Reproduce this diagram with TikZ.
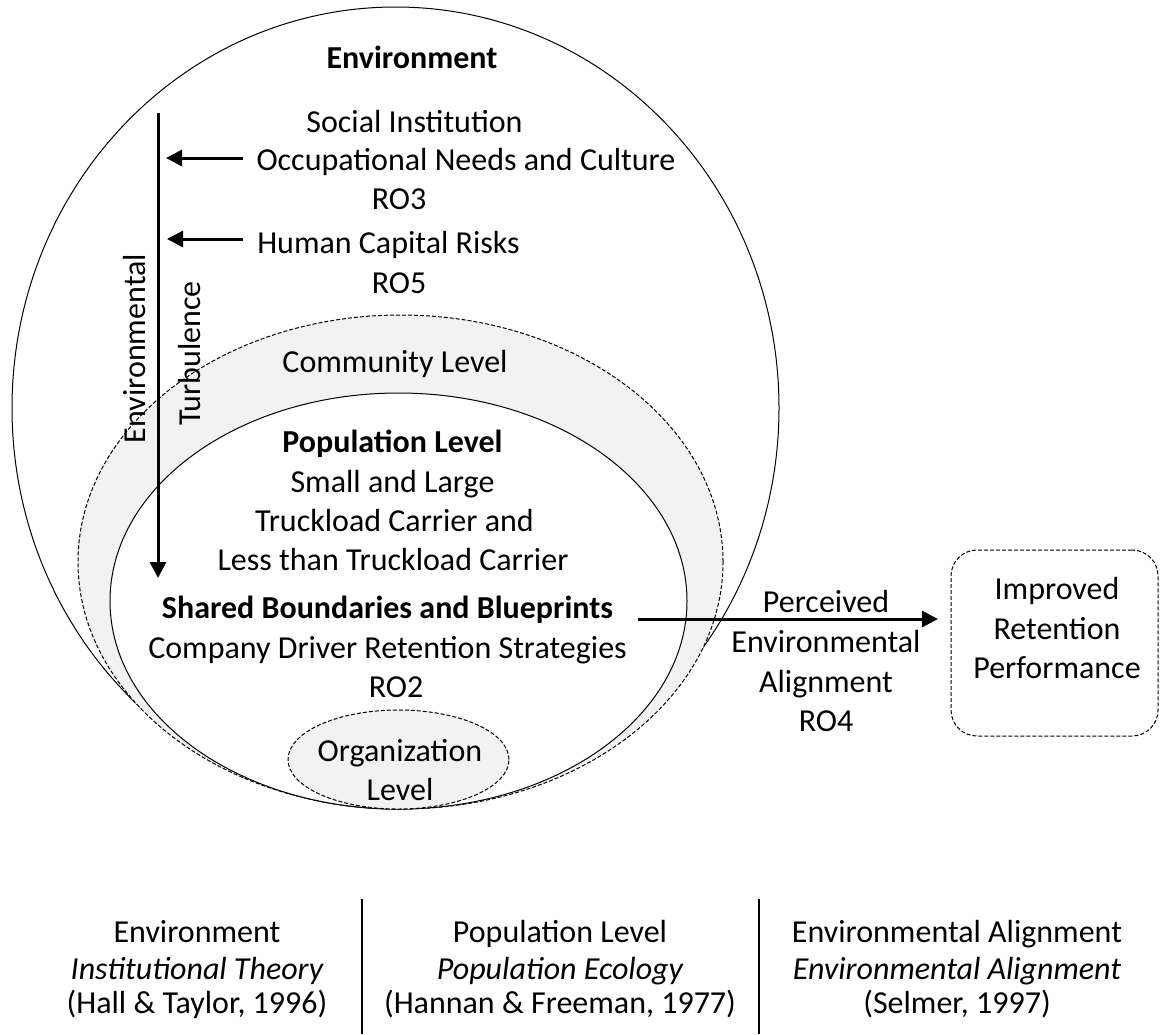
\documentclass[tikz,border=0pt]{standalone}
\usepackage{fontspec}
\setmainfont{Carlito}
\usetikzlibrary{arrows.meta,shapes.geometric}
\definecolor{lightfill}{HTML}{F2F2F2}
\begin{document}
\begin{tikzpicture}[x=0.5pt,y=-0.5pt,
  font=\fontsize{16pt}{20pt}\selectfont,
  lbl/.style={anchor=base,inner sep=0pt,outer sep=0pt},
  thinline/.style={line width=0.5pt},
  dashline/.style={line width=0.5pt,dash pattern=on 2pt off 1pt},
  ell/.style={ellipse,inner sep=0pt,outer sep=0pt},
  bigarrow/.style={line width=1.5pt,-{Triangle[length=8pt,width=8pt]}},
  sepline/.style={line width=0.8pt},
]
\useasboundingbox (0,0) rectangle (1160,1034);
% ellipses
\node[ell,draw,thinline,minimum width=383.5pt,minimum height=401pt] (env) at (395.5,408) {};
\node[ell,draw,dashline,fill=lightfill,minimum width=322.5pt,minimum height=247pt] (comm) at (400.5,562) {};
\node[ell,draw,thinline,fill=white,minimum width=288.5pt,minimum height=208pt] (pop) at (398.5,601) {};
\node[ell,draw,dashline,fill=lightfill,minimum width=110.5pt,minimum height=49.5pt] (org) at (398.5,759.5) {};
% top texts
\node[lbl,font=\fontsize{16pt}{20pt}\selectfont\bfseries] (tenv) at (412,68) {Environment};
\node[lbl] (tsoc) at (414.5,132) {Social Institution};
\node[lbl] (tocc) at (466,170) {Occupational Needs and Culture};
\node[lbl] (tro3) at (399,209) {RO3};
\node[lbl] (thum) at (388.5,253) {Human Capital Risks};
\node[lbl] (tro5) at (399,293) {RO5};
\node[lbl] (tcomm) at (395,372) {Community Level};
\node[lbl,font=\fontsize{16pt}{20pt}\selectfont\bfseries] (tpop) at (392.5,452) {Population Level};
\node[lbl] (tsmall) at (392.5,492) {Small and Large};
\node[lbl] (ttruck) at (394.5,531) {Truckload Carrier and};
\node[lbl] (tless) at (393,570) {Less than Truckload Carrier};
\node[lbl,font=\fontsize{16pt}{20pt}\selectfont\bfseries] (tshared) at (387.5,618) {Shared Boundaries and Blueprints};
\node[lbl] (tcomp) at (387.5,658) {Company Driver Retention Strategies};
\node[lbl] (tro2) at (396,697) {RO2};
\node[lbl] (torg1) at (400,761) {Organization};
\node[lbl] (torg2) at (400,800) {Level};
% rotated labels
\node[lbl,rotate=90] (tenvt) at (145,348.5) {Environmental};
\node[lbl,rotate=90] (tturb) at (200,353.5) {Turbulence};
% arrows
\coordinate (vtop) at (158,113);
\coordinate (vbot) at (158,578);
\draw[bigarrow] (vtop) -- (vbot);
\coordinate (h1s) at (243,158);
\coordinate (h1e) at (166,158);
\draw[bigarrow] (h1s) -- (h1e);
\coordinate (h2s) at (243,239);
\coordinate (h2e) at (167,239);
\draw[bigarrow] (h2s) -- (h2e);
% right box
\node[draw,dashline,rounded corners=13pt,minimum width=103.5pt,minimum height=93pt,inner sep=0pt] (box) at (1054.5,643) {};
\node[lbl] (timp) at (1057,599) {Improved};
\node[lbl] (tret) at (1057,639) {Retention};
\node[lbl] (tperf) at (1057,678) {Performance};
\coordinate (rs) at (638,619);
\coordinate (re) at (938,619);
\draw[bigarrow] (rs) -- (re);
\node[lbl] (tperc) at (826,612) {Perceived};
\node[lbl] (tenvr) at (826,652) {Environmental};
\node[lbl] (talign) at (826,692) {Alignment};
\node[lbl] (tro4) at (826,731) {RO4};
% bottom
\coordinate (s1t) at (362,899);
\coordinate (s1b) at (362,1034);
\coordinate (s2t) at (759,899);
\coordinate (s2b) at (759,1034);
\draw[sepline] (s1t) -- (s1b);
\draw[sepline] (s2t) -- (s2b);
\node[lbl] (b11) at (197,942) {Environment};
\node[lbl] (b12) at (197,979) {\itshape Institutional Theory};
\node[lbl] (b13) at (197,1013) {(Hall \& Taylor, 1996)};
\node[lbl] (b21) at (560,942) {Population Level};
\node[lbl] (b22) at (560,979) {\itshape Population Ecology};
\node[lbl] (b23) at (560,1013) {(Hannan \& Freeman, 1977)};
\node[lbl] (b31) at (957,942) {Environmental Alignment};
\node[lbl] (b32) at (957,979) {\itshape Environmental Alignment};
\node[lbl] (b33) at (957,1013) {(Selmer, 1997)};
\end{tikzpicture}
\end{document}
